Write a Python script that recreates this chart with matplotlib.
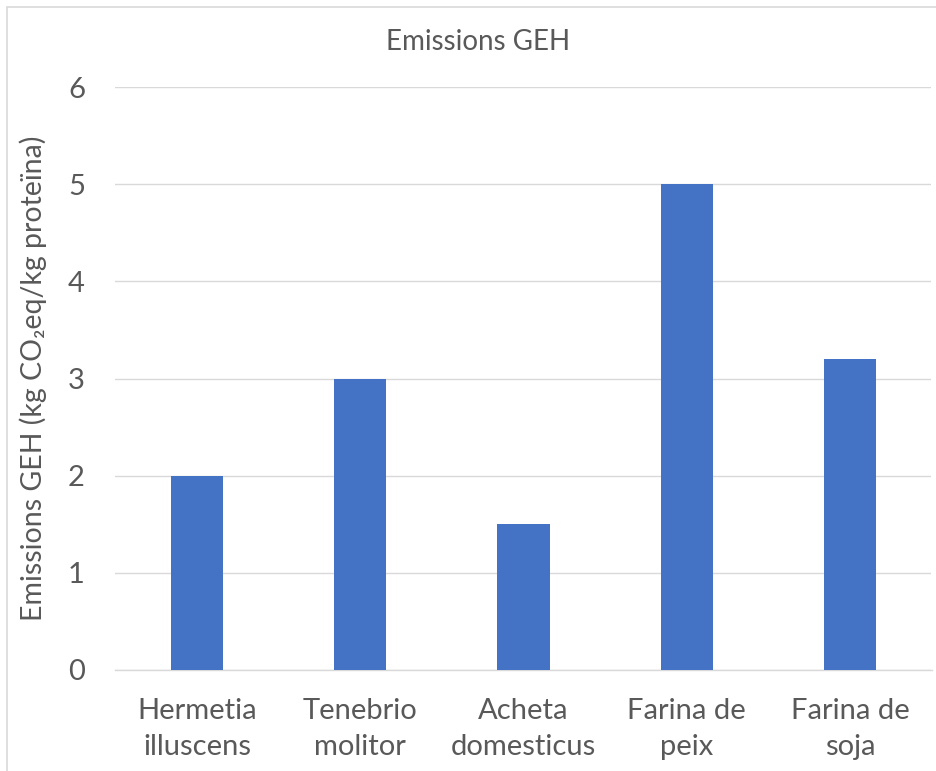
import matplotlib
matplotlib.use("Agg")
import matplotlib.pyplot as plt
from matplotlib.patches import Rectangle

plt.rcParams['font.family'] = ['Lato', 'DejaVu Sans']

categories = ["Hermetia\nilluscens", "Tenebrio\nmolitor", "Acheta\ndomesticus",
              "Farina de\npeix", "Farina de\nsoja"]
values = [2.0, 3.0, 1.5, 5.0, 3.2]
yticks = [0, 1, 2, 3, 4, 5, 6]

TEXT = "#595959"
GRID = "#D9D9D9"
BAR = "#4472C4"

W, H = 937, 771
fig = plt.figure(figsize=(W / 100, H / 100), dpi=100)
fig.patch.set_facecolor("white")

# chart-area border
fig.add_artist(Rectangle((7 / W, -0.01), 1.0, 1.01 - 7 / H, transform=fig.transFigure,
                         fill=False, edgecolor=GRID, linewidth=1.2))

ax = fig.add_axes([115.5 / W, 101 / H, 816 / W, 583 / H])
x = range(len(categories))
ax.bar(x, values, width=0.32, color=BAR, zorder=3)

ax.set_xlim(-0.5, len(categories) - 0.5)
ax.set_ylim(0, 6)
ax.set_yticks(yticks)
ax.set_yticklabels([str(v) for v in yticks])
ax.set_xticks(list(x))
ax.set_xticklabels(categories, linespacing=1.5)
ax.grid(axis="y", color=GRID, linewidth=1.0, zorder=0)
for s in ["top", "right", "left"]:
    ax.spines[s].set_visible(False)
ax.spines["bottom"].set_color(GRID)
ax.spines["bottom"].set_linewidth(1.0)
ax.tick_params(axis="both", length=0, labelsize=21, colors=TEXT)
ax.tick_params(axis="y", pad=22)
ax.tick_params(axis="x", pad=20)

ax.set_ylabel("Emissions GEH (kg CO₂eq/kg proteïna)", fontsize=20.5, color=TEXT, labelpad=15)
fig.text(478 / W, 1 - 42 / H, "Emissions GEH", ha="center", va="center",
         fontsize=20, color=TEXT)

fig.savefig("out.png", dpi=100)
